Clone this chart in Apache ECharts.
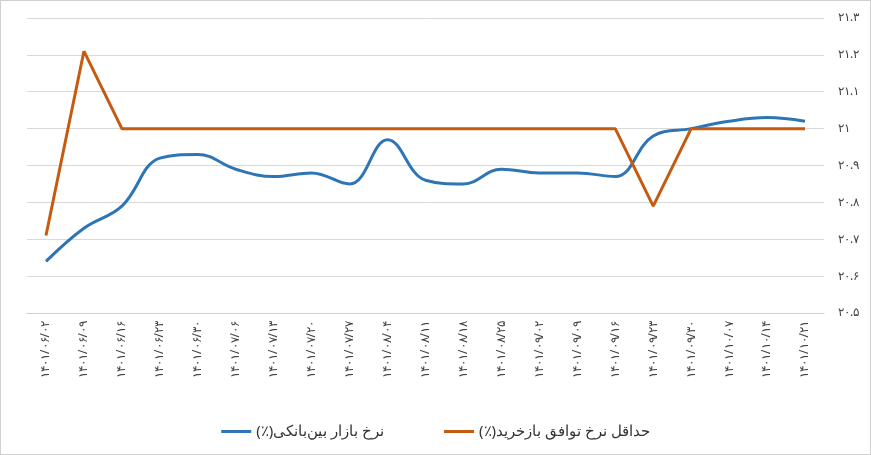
<!DOCTYPE html><html><head><meta charset="utf-8"><script src="https://cdn.jsdelivr.net/npm/echarts@6/dist/echarts.min.js"></script>
<style>body{margin:0}#c{width:869px;height:453px;border:1px solid #d0d0d0}</style></head><body><div id="c"></div><script>
const categories=['۱۴۰۱/۰۶/۰۲','۱۴۰۱/۰۶/۰۹','۱۴۰۱/۰۶/۱۶','۱۴۰۱/۰۶/۲۳','۱۴۰۱/۰۶/۳۰','۱۴۰۱/۰۷/۰۶','۱۴۰۱/۰۷/۱۳','۱۴۰۱/۰۷/۲۰','۱۴۰۱/۰۷/۲۷','۱۴۰۱/۰۸/۰۴','۱۴۰۱/۰۸/۱۱','۱۴۰۱/۰۸/۱۸','۱۴۰۱/۰۸/۲۵','۱۴۰۱/۰۹/۰۲','۱۴۰۱/۰۹/۰۹','۱۴۰۱/۰۹/۱۶','۱۴۰۱/۰۹/۲۳','۱۴۰۱/۰۹/۳۰','۱۴۰۱/۱۰/۰۷','۱۴۰۱/۱۰/۱۴','۱۴۰۱/۱۰/۲۱'];
const interbank=[20.64,20.73,20.79,20.92,20.93,20.89,20.87,20.88,20.85,20.97,20.86,20.85,20.89,20.88,20.88,20.87,20.98,21.0,21.02,21.03,21.02];
const repoMin=[20.71,21.21,21.0,21.0,21.0,21.0,21.0,21.0,21.0,21.0,21.0,21.0,21.0,21.0,21.0,21.0,20.79,21.0,21.0,21.0,21.0];
const seriesNames=['\u200Fنرخ بازار بین‌بانکی(٪)\u200F','\u200Fحداقل نرخ توافق بازخرید(٪)\u200F'];
const fa=s=>String(s).replace(/\d/g,d=>'۰۱۲۳۴۵۶۷۸۹'[d]);
const ch=echarts.init(document.getElementById('c'));
ch.setOption({
 animation:false,
 grid:{left:26,right:46,top:17,bottom:141},
 legend:{bottom:10,itemGap:60,itemWidth:30,textStyle:{fontFamily:'Noto Sans',fontSize:15,color:'#333'},data:seriesNames.map(n=>({name:n,icon:'rect'})),itemHeight:3},
 xAxis:{type:'category',data:categories,axisTick:{show:false},axisLine:{lineStyle:{color:'#d0d0d0'}},
  axisLabel:{rotate:90,interval:0,color:'#444',fontSize:12,fontFamily:'Noto Sans'}},
 yAxis:{type:'value',position:'right',min:20.5,max:21.3,interval:0.1,
  axisLabel:{color:'#444',fontSize:12,fontFamily:'Noto Sans',margin:14,formatter:v=>fa(+v.toFixed(1))},
  splitLine:{lineStyle:{color:'#d9d9d9'}}},
 series:[
  {name:seriesNames[0],type:'line',smooth:0.4,data:interbank,symbol:'none',lineStyle:{color:'#2e75b6',width:3},itemStyle:{color:'#2e75b6'}},
  {name:seriesNames[1],type:'line',data:repoMin,symbol:'none',lineStyle:{color:'#c55a11',width:3},itemStyle:{color:'#c55a11'}}
 ]
});
</script></body></html>
